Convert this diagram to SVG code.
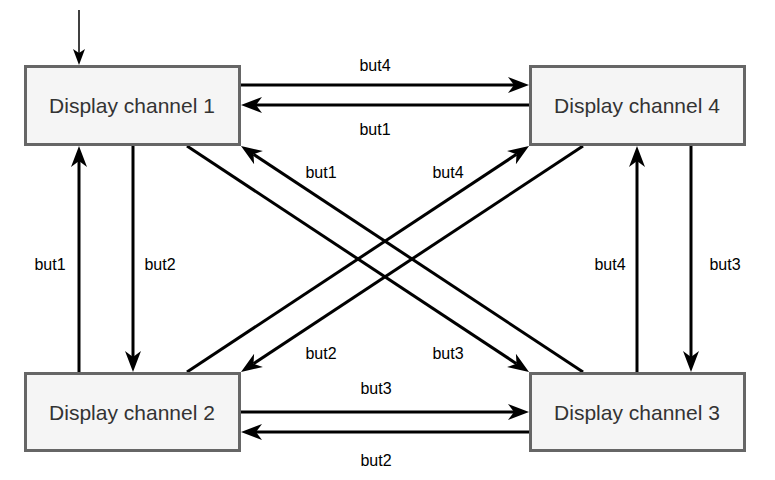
<svg xmlns="http://www.w3.org/2000/svg" width="775" height="480" viewBox="0 0 775 480">
<style>
.box{fill:#f5f5f5;stroke:#666666;stroke-width:3}
.bt{font-family:"Liberation Sans",Arial,sans-serif;font-size:21px;fill:#333333;text-anchor:middle}
.lbl{font-family:"Liberation Sans",Arial,sans-serif;font-size:16px;fill:#000000;text-anchor:middle}
.e{fill:none;stroke:#000000;stroke-width:3;marker-end:url(#ah)}
.t{fill:none;stroke:#000000;stroke-width:1.5;marker-end:url(#ahs)}
</style>
<defs>
<marker id="ah" markerUnits="userSpaceOnUse" markerWidth="22" markerHeight="18" refX="6" refY="9" orient="auto">
<path d="M0,1 L21,9 L0,17 L6,9 Z" fill="#000000"/>
</marker>
<marker id="ahs" markerUnits="userSpaceOnUse" markerWidth="17" markerHeight="13" refX="4" refY="6" orient="auto">
<path d="M0,0 L16,6 L0,12 L4,6 Z" fill="#000000"/>
</marker>
</defs>
<rect width="775" height="480" fill="#ffffff"/>
<g id="connectors">
<path class="t" d="M79,10 L79,53"/>
<path class="e" d="M241,85 L514,85"/>
<path class="e" d="M529,105 L256,105"/>
<path class="e" d="M241,412 L514,412"/>
<path class="e" d="M529,432 L256,432"/>
<path class="e" d="M79,372 L79,161"/>
<path class="e" d="M133,146 L133,357"/>
<path class="e" d="M637,372 L637,161"/>
<path class="e" d="M691,146 L691,357"/>
<path class="e" d="M187,146 L516.5,363.7"/>
<path class="e" d="M583,372 L253.5,154.3"/>
<path class="e" d="M187,372 L516.5,154.3"/>
<path class="e" d="M583,146 L253.5,363.7"/>
<text class="lbl" x="375" y="71">but4</text>
<text class="lbl" x="375" y="135">but1</text>
<text class="lbl" x="376" y="394">but3</text>
<text class="lbl" x="376" y="466">but2</text>
<text class="lbl" x="50" y="270">but1</text>
<text class="lbl" x="160" y="270">but2</text>
<text class="lbl" x="610" y="270">but4</text>
<text class="lbl" x="725" y="270">but3</text>
<text class="lbl" x="321" y="178">but1</text>
<text class="lbl" x="448" y="178">but4</text>
<text class="lbl" x="321" y="359">but2</text>
<text class="lbl" x="448" y="359">but3</text>
</g>
<g id="ch1">
<rect class="box" x="25.5" y="66.5" width="214" height="78"/>
<text class="bt" x="132" y="113">Display channel 1</text>
</g>
<g id="ch4">
<rect class="box" x="530.5" y="66.5" width="214" height="78"/>
<text class="bt" x="637" y="113">Display channel 4</text>
</g>
<g id="ch2">
<rect class="box" x="25.5" y="373.5" width="214" height="77"/>
<text class="bt" x="132" y="420">Display channel 2</text>
</g>
<g id="ch3">
<rect class="box" x="530.5" y="373.5" width="214" height="77"/>
<text class="bt" x="637" y="420">Display channel 3</text>
</g>
</svg>
